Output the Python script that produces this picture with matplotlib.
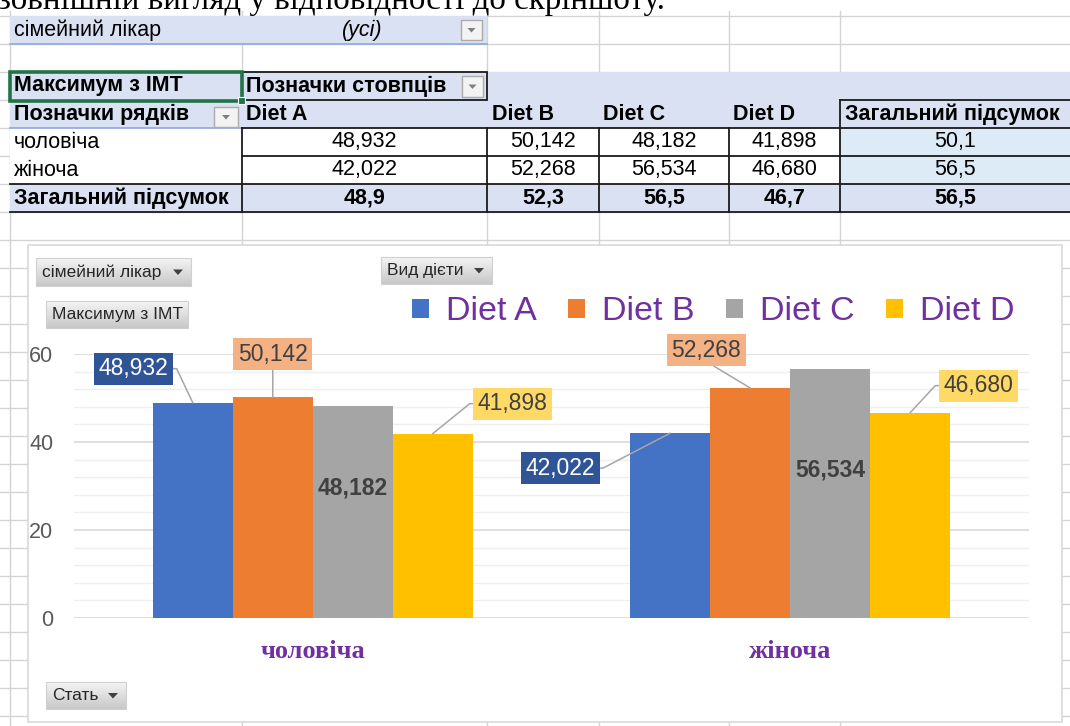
import matplotlib
matplotlib.use('Agg')
import matplotlib.pyplot as plt
from matplotlib.patches import Rectangle, Polygon
from matplotlib.colors import LinearSegmentedColormap
import numpy as np

plt.rcParams['font.family'] = ['Liberation Sans', 'DejaVu Sans']

# ---------------- data ----------------
categories = ['чоловіча', 'жіноча']
diets = ['Diet A', 'Diet B', 'Diet C', 'Diet D']
diet_a = [48.932, 42.022]
diet_b = [50.142, 52.268]
diet_c = [48.182, 56.534]
diet_d = [41.898, 46.680]
series = [diet_a, diet_b, diet_c, diet_d]
yticks = [0, 20, 40, 60]
filter_field = 'сімейний лікар'
filter_value = '(усі)'
value_field = 'Максимум з ІМТ'
col_field = 'Позначки стовпців'
row_field = 'Позначки рядків'
total_label = 'Загальний підсумок'
legend_field = 'Вид дієти'
axis_field = 'Стать'
doc_text = 'зовнішній вигляд у відповідності до скріншоту.'

colors = ['#4472C4', '#ED7D31', '#A5A5A5', '#FFC000']
label_fc = ['#2F5597', '#F4B183', None, '#FFD966']
label_tc = ['white', '#404040', '#404040', '#404040']


def fmt(v, d=3):
    return f'{v:.{d}f}'.replace('.', ',')


W, H = 1070, 726
fig = plt.figure(figsize=(W / 100, H / 100), dpi=100)
bg = fig.add_axes([0, 0, 1, 1])
bg.set_xlim(0, W)
bg.set_ylim(H, 0)
bg.axis('off')

GRID = '#D4D4D4'
LAV = '#D9E1F2'
col_x = [10, 242, 487, 599, 729, 840]
row_h = 28
row0 = 16

# document text (cut at top, as in the screenshot)
bg.text(-2, 9.5, doc_text, family=['Liberation Serif', 'DejaVu Serif'], fontsize=23.8,
        va='baseline', ha='left', color='black')

# sheet gridlines
for cx in col_x:
    bg.plot([cx, cx], [11, H], color=GRID, lw=1, zorder=1)
for k in range(30):
    yy = row0 + k * row_h
    bg.plot([0, W], [yy, yy], color=GRID, lw=1, zorder=1)

# fills
bg.add_patch(Rectangle((10, 16), 477, 28, fc=LAV, ec='none', zorder=2))
bg.plot([10, 487], [44, 44], color='#8EA9DB', lw=1.2, zorder=3)
bg.add_patch(Rectangle((10, 72), W - 10, 56, fc=LAV, ec='none', zorder=2))
bg.add_patch(Rectangle((10, 128), 830, 56, fc='white', ec='none', zorder=2))
bg.add_patch(Rectangle((840, 128), W - 840, 56, fc='#DDEBF7', ec='none', zorder=2))
bg.add_patch(Rectangle((10, 184), W - 10, 28, fc=LAV, ec='none', zorder=2))
bg.plot([10, 242], [128, 128], color='#8EA9DB', lw=1.2, zorder=3)

# borders
BK = dict(color='#1A1A1A', lw=1.3, zorder=4)
bg.add_patch(Rectangle((242, 72), 245, 28, fc='none', ec='#1A1A1A', lw=1.3, zorder=4))
bg.plot([242, W], [128, 128], **BK)
bg.plot([840, W], [100, 100], **BK)
bg.plot([840, 840], [100, 212], **BK)
for cx in col_x[1:5]:
    bg.plot([cx, cx], [128, 212], **BK)
bg.plot([242, W], [156, 156], **BK)
bg.plot([10, W], [184, 184], **BK)
bg.plot([10, W], [212, 212], **BK)

# selection box
bg.add_patch(Rectangle((10, 72), 232, 29, fc='none', ec='#217346', lw=2.6, zorder=6))
bg.add_patch(Rectangle((238, 97), 7, 7, fc='#217346', ec='white', lw=0.8, zorder=7))


def dropdown(x0, y0, x1, y1):
    bg.add_patch(Rectangle((x0, y0), x1 - x0, y1 - y0, fc='#F3F3F3', ec='#ABABAB', lw=1, zorder=5))
    cx, cy = (x0 + x1) / 2, (y0 + y1) / 2
    bg.add_patch(Polygon([(cx - 4, cy - 2), (cx + 4, cy - 2), (cx, cy + 2.5)], closed=True,
                         fc='#808080', ec='none', zorder=6))


dropdown(461, 20, 482, 40)
dropdown(462, 76, 483, 97)
dropdown(214, 107, 238, 127)

TFS = 15.5
bg.text(14, 30, filter_field, fontsize=TFS, va='center', color='black', zorder=8)
bg.text(362, 30, filter_value, fontsize=TFS, va='center', ha='center', style='italic', zorder=8)
bg.text(14, 86, value_field, fontsize=TFS, va='center', weight='bold', zorder=8)
bg.text(246, 86, col_field, fontsize=TFS, va='center', weight='bold', zorder=8)
bg.text(14, 114, row_field, fontsize=TFS, va='center', weight='bold', zorder=8)
hdr_x = [246, 492, 603, 733]
for hx, dname in zip(hdr_x, diets):
    bg.text(hx, 114, dname, fontsize=TFS, va='center', weight='bold', zorder=8)
bg.text(845, 114, total_label, fontsize=TFS, va='center', weight='bold', zorder=8)

col_centers = [(col_x[i] + col_x[i + 1]) / 2 for i in range(1, 5)] + [(840 + W) / 2]
for r, cat in enumerate(categories):
    yy = 142 + r * row_h
    bg.text(14, yy, cat, fontsize=TFS, va='center', zorder=8)
    vals = [fmt(s[r]) for s in series] + [fmt(max(s[r] for s in series), 1)]
    for cx, v in zip(col_centers, vals):
        bg.text(cx, yy, v, fontsize=TFS, va='center', ha='center', zorder=8)
bg.text(14, 198, total_label, fontsize=TFS, va='center', weight='bold', zorder=8)
tot = [fmt(max(s), 1) for s in series] + [fmt(max(max(s) for s in series), 1)]
for cx, v in zip(col_centers, tot):
    bg.text(cx, 198, v, fontsize=TFS, va='center', ha='center', weight='bold', zorder=8)

# chart area
bg.add_patch(Rectangle((28, 245), 1034, 477, fc='white', ec='#D9D9D9', lw=1.2, zorder=10))

btn_cmap = LinearSegmentedColormap.from_list('btn', ['#F4F4F4', '#C8C8C8'])
grad = np.linspace(0, 1, 40).reshape(-1, 1)


def button(x0, y0, x1, y1, text, arrow=True):
    bg.imshow(grad, extent=(x0, x1, y1, y0), cmap=btn_cmap, aspect='auto',
              interpolation='bilinear', zorder=11)
    bg.add_patch(Rectangle((x0, y0), x1 - x0, y1 - y0, fc='none', ec='#D0D0D0', lw=0.8, zorder=12))
    bg.text(x0 + 6, (y0 + y1) / 2 + 0.5, text, fontsize=12.5, va='center', ha='left',
            color='#262626', zorder=13)
    if arrow:
        ax_ = x1 - 13
        cy = (y0 + y1) / 2
        bg.add_patch(Polygon([(ax_ - 5, cy - 2.5), (ax_ + 5, cy - 2.5), (ax_, cy + 3)], closed=True,
                             fc='#404040', ec='none', zorder=13))


button(36, 258, 191, 286, filter_field)
button(381, 257, 492, 284, legend_field)
button(46, 301, 188, 328, value_field, arrow=False)
button(46, 682, 126, 709, axis_field)
bg.set_xlim(0, W)
bg.set_ylim(H, 0)

# ---------------- bar chart ----------------
L, R, B, T = 74, 1029, 618, 354
ax = fig.add_axes([L / W, 1 - B / H, (R - L) / W, (B - T) / H])
ax.set_facecolor('none')
ax.set_zorder(20)
xpos = np.arange(len(categories))
width = 0.1675

# label placement (offset pixels from bar top, leader style)
label_style = [
    [(-59, 34, 'right'), (-110, -35, 'right')],
    [(0, 43, 'down'), (-44, 38, 'down')],
    [(0, -82, 'inside'), (0, -101, 'inside')],
    [(80, 30, 'left'), (68, 27, 'left')],
]

LFS = 16.5
for i, s in enumerate(series):
    bars = ax.bar(xpos + (i - 1.5) * width, s, width, color=colors[i], label=diets[i], zorder=3)
    for j, rect in enumerate(bars):
        v = s[j]
        bx = rect.get_x() + rect.get_width() / 2
        dx, dy, kind = label_style[i][j]
        if kind == 'inside':
            ax.annotate(fmt(v), xy=(bx, v), xytext=(dx, dy), textcoords='offset pixels',
                        ha='center', va='center', fontsize=LFS, weight='bold',
                        color=label_tc[i], zorder=6)
            continue
        if kind == 'right':
            relpos, conn = (1, 0.5), 'arc,angleA=0,angleB=0,armA=8,armB=0,rad=0'
        elif kind == 'left':
            relpos, conn = (0, 0.5), 'arc,angleA=180,angleB=0,armA=8,armB=0,rad=0'
        else:
            relpos, conn = (0.5, 0), 'arc3,rad=0'
        ax.annotate(fmt(v), xy=(bx, v), xytext=(dx, dy), textcoords='offset pixels',
                    ha='center', va='center', fontsize=LFS, color=label_tc[i], zorder=6,
                    bbox=dict(boxstyle='square,pad=0.2', fc=label_fc[i], ec='none'),
                    arrowprops=dict(arrowstyle='-', color='#A6A6A6', lw=1.1, relpos=relpos,
                                    connectionstyle=conn, shrinkA=0, shrinkB=0),
                    annotation_clip=False)

ax.set_xlim(-0.5, len(categories) - 0.5)
ax.set_ylim(0, 60)
ax.set_yticks(yticks)
ax.set_yticks(np.arange(0, 61, 4), minor=True)
ax.grid(axis='y', which='minor', color='#EFEFEF', lw=1, zorder=0)
ax.grid(axis='y', which='major', color='#D9D9D9', lw=1.2, zorder=0)
ax.set_axisbelow(True)
for sp in ax.spines.values():
    sp.set_visible(False)
ax.tick_params(which='both', length=0)
ax.tick_params(axis='y', pad=15, labelsize=15.5, labelcolor='#595959')
ax.set_xticks(xpos)
ax.set_xticklabels(categories, family=['Liberation Serif', 'DejaVu Serif'], weight='bold',
                   fontsize=19, color='#7030A0')
ax.tick_params(axis='x', pad=16)

leg = ax.legend(loc='center left', bbox_to_anchor=(412 / W, 1 - 312 / H),
                bbox_transform=fig.transFigure, ncol=4, frameon=False,
                fontsize=24.5, handlelength=0.5, handleheight=0.5, handletextpad=0.5,
                columnspacing=0.92, borderpad=0, borderaxespad=0, labelcolor='#7030A0')

fig.savefig('out.png', dpi=100)
